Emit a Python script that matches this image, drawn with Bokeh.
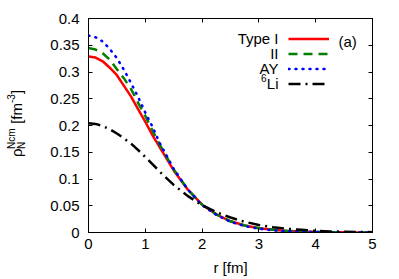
from bokeh.plotting import figure
from bokeh.layouts import row
from bokeh.models import (LinearAxis, FixedTicker, Label, Legend, LegendItem,
                          Range1d, CustomJSTickFormatter, Div)
from bokeh.core.properties import value
from bokeh.embed import file_html
from bokeh.resources import INLINE

# ---- data ----
r = [0.0, 0.125, 0.25, 0.375, 0.5, 0.625, 0.75, 0.875, 1.0, 1.125, 1.25, 1.5,
     1.75, 2.0, 2.25, 2.5, 2.75, 3.0, 3.25, 3.5, 3.75, 4.0, 4.25, 4.5, 4.75, 5.0]
type_i = [0.329, 0.327, 0.320, 0.308, 0.294, 0.274, 0.254, 0.230, 0.207, 0.182,
          0.160, 0.116, 0.080, 0.052, 0.034, 0.021, 0.013, 0.008, 0.005, 0.003,
          0.002, 0.001, 0.0007, 0.0004, 0.0002, 0.0001]
type_ii = [0.345, 0.342, 0.335, 0.323, 0.305, 0.288, 0.268, 0.242, 0.218, 0.191,
           0.165, 0.118, 0.080, 0.052, 0.034, 0.021, 0.013, 0.008, 0.005, 0.003,
           0.002, 0.001, 0.0007, 0.0004, 0.0002, 0.0001]
ay = [0.368, 0.365, 0.357, 0.343, 0.326, 0.304, 0.279, 0.253, 0.224, 0.198,
      0.168, 0.119, 0.080, 0.051, 0.033, 0.020, 0.012, 0.007, 0.004, 0.0025,
      0.0015, 0.001, 0.0006, 0.0003, 0.0002, 0.0001]
li6 = [0.204, 0.203, 0.199, 0.193, 0.185, 0.176, 0.166, 0.154, 0.141, 0.128,
       0.114, 0.089, 0.068, 0.051, 0.038, 0.028, 0.020, 0.014, 0.010, 0.007,
       0.005, 0.003, 0.002, 0.0015, 0.001, 0.0007]

x_ticks = [0, 1, 2, 3, 4, 5]
y_ticks = [0, 0.05, 0.1, 0.15, 0.2, 0.25, 0.3, 0.35, 0.4]
y_tick_labels = ["0", "0.05", "0.1", "0.15", "0.2", "0.25", "0.3", "0.35", "0.4"]
legend_labels = ["Type I", "II", "AY"]

FONT = "Liberation Sans"
FS = "15px"
DIV_W = 40

p = figure(frame_width=284, frame_height=214, output_backend="svg",
           toolbar_location=None, x_range=Range1d(0, 5), y_range=Range1d(0, 0.4),
           min_border_left=88 - DIV_W, min_border_right=27, min_border_top=18,
           min_border_bottom=47, background_fill_color="white",
           border_fill_color="white")
p.grid.visible = False
p.outline_line_color = "black"
p.outline_line_alpha = 1.0
p.outline_line_width = 1

# main axes
for ax in (p.xaxis[0], p.yaxis[0]):
    ax.major_tick_in = 4
    ax.major_tick_out = 0
    ax.minor_tick_in = 0
    ax.minor_tick_out = 0
    ax.axis_line_color = "black"
    ax.major_tick_line_color = "black"
    ax.major_label_text_font = FONT
    ax.major_label_text_font_size = FS
    ax.major_label_text_color = "black"

p.xaxis.ticker = FixedTicker(ticks=x_ticks)
p.yaxis.ticker = FixedTicker(ticks=y_ticks)
p.yaxis.major_label_overrides = {t: s for t, s in zip(y_ticks, y_tick_labels)}
p.xaxis.major_label_standoff = 6
p.yaxis.major_label_standoff = 9
p.xaxis.axis_label = "r [fm]"
p.xaxis.axis_label_text_font = FONT
p.xaxis.axis_label_text_font_size = FS
p.xaxis.axis_label_text_font_style = "normal"
p.xaxis.axis_label_text_color = "black"
p.xaxis.axis_label_standoff = 7

# mirror ticks (top / right)
blank = CustomJSTickFormatter(code="return ''")
top = LinearAxis(ticker=FixedTicker(ticks=x_ticks), formatter=blank,
                 major_tick_in=4, major_tick_out=0, minor_tick_in=0,
                 minor_tick_out=0, major_label_standoff=0,
                 major_label_text_font_size="1px", axis_line_color="black")
right = LinearAxis(ticker=FixedTicker(ticks=y_ticks), formatter=blank,
                   major_tick_in=4, major_tick_out=0, minor_tick_in=0,
                   minor_tick_out=0, major_label_standoff=0,
                   major_label_text_font_size="1px", axis_line_color="black")
p.add_layout(top, "above")
p.add_layout(right, "right")

# curves
r1 = p.line(r, type_i, line_color="#ff0000", line_width=2.5)
r2 = p.line(r, type_ii, line_color="#007f00", line_width=2.5, line_dash="9 6")
r3 = p.line(r, ay, line_color="#0000ff", line_width=2.5, line_dash="1 6",
            line_cap="round")
r4 = p.line(r, li6, line_color="black", line_width=2.5, line_dash="12 5 2 5")

# legend samples (texts are drawn separately, right-aligned, gnuplot style)
leg = Legend(items=[LegendItem(label=value(""), renderers=[rr]) for rr in (r1, r2, r3, r4)],
             location=(200, 141.5), padding=0, margin=0, spacing=0,
             glyph_width=41, glyph_height=15, label_height=15, label_width=0,
             label_standoff=0, label_text_font_size="8px",
             background_fill_alpha=0, border_line_alpha=0)
p.add_layout(leg)

def lab(txt, x, y, fs=FS, align="left"):
    p.add_layout(Label(x=x, y=y, x_units="screen", y_units="screen", text=txt,
                       text_align=align, text_baseline="middle",
                       text_font=FONT, text_font_size=fs, text_color="black"))

row_y = [194, 179, 164]
for txt, yy in zip(legend_labels, row_y):
    lab(txt, 190, yy, align="right")
lab("Li", 190, 149, align="right")
lab("6", 178, 155, fs="10px", align="right")
lab("(a)", 250, 191)

# y axis label: rho_N^Ncm [fm^-3], rotated text in a narrow Div at the left
def piece(txt, left, top, size):
    return ('<span style="position:absolute; left:%spx; top:%spx; '
            'transform-origin:0 0; transform:rotate(-90deg); white-space:pre; '
            "line-height:1; font-family:'Liberation Sans'; font-size:%spx; "
            'color:black;">%s</span>' % (left, top, size, txt))

ylabel_html = ('<div style="position:relative; width:%dpx; height:279px;">' % DIV_W
               + piece("ρ", 9.3, 157, 15)
               + piece("N", 16.5, 148.5, 10)
               + piece("Ncm", 6.5, 148.5, 10)
               + piece(" [fm", 9.3, 127.8, 15)
               + piece("-3", 6.5, 102.5, 10)
               + piece("]", 9.3, 93.6, 15)
               + '</div>')
div = Div(text=ylabel_html, width=DIV_W, height=279, margin=0)

layout = row(div, p, spacing=0)
open("out.html", "w").write(file_html(layout, INLINE))
